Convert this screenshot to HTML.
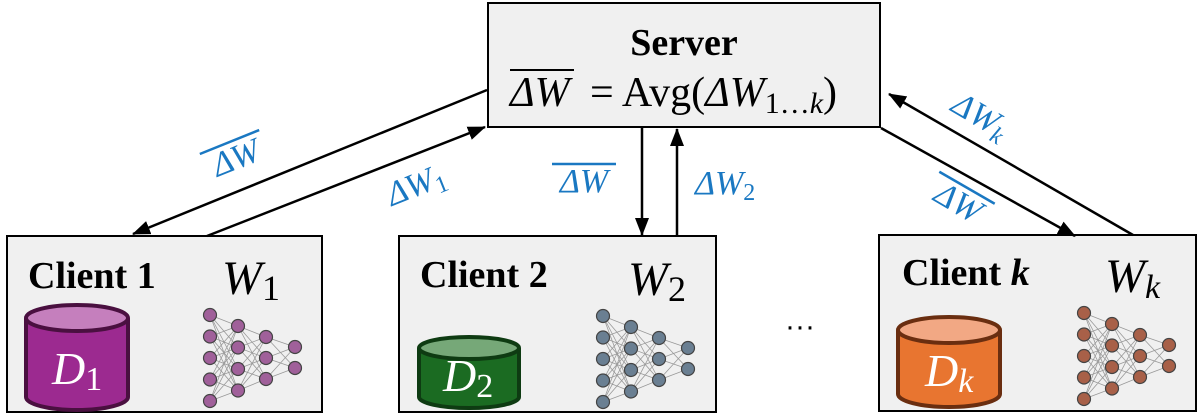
<!DOCTYPE html>
<html><head><meta charset="utf-8"><style>
html,body{margin:0;padding:0;background:#fff;}
svg{display:block;}
.b{font-family:"Liberation Serif",serif;font-weight:bold;font-size:38px;fill:#000;}
.m{font-family:"Liberation Serif",serif;font-style:italic;fill:#000;}
.bl{font-family:"Liberation Serif",serif;font-style:italic;fill:#1a78c2;font-size:34px;}
</style></head><body>
<svg width="1202" height="419" viewBox="0 0 1202 419" xmlns="http://www.w3.org/2000/svg">
<defs>
<marker id="ah" markerWidth="18" markerHeight="14" refX="17" refY="7" orient="auto" markerUnits="userSpaceOnUse" viewBox="0 0 18 14">
<path d="M0,0 L18,7 L0,14 z" fill="#000"/></marker>
<g id="net">
<path fill="none" stroke="#999" stroke-width="0.8" d="
M0,0L28,11M0,0L28,32.5M0,0L28,54M0,0L28,75.5
M0,21.5L28,11M0,21.5L28,32.5M0,21.5L28,54M0,21.5L28,75.5
M0,43L28,11M0,43L28,32.5M0,43L28,54M0,43L28,75.5
M0,64.5L28,11M0,64.5L28,32.5M0,64.5L28,54M0,64.5L28,75.5
M0,86L28,11M0,86L28,32.5M0,86L28,54M0,86L28,75.5
M28,11L56,22M28,11L56,43M28,11L56,64
M28,32.5L56,22M28,32.5L56,43M28,32.5L56,64
M28,54L56,22M28,54L56,43M28,54L56,64
M28,75.5L56,22M28,75.5L56,43M28,75.5L56,64
M56,22L85,32M56,22L85,53M56,43L85,32M56,43L85,53M56,64L85,32M56,64L85,53"/>
<g stroke="#444" stroke-width="1.2">
<circle cx="0" cy="0" r="6.5"/><circle cx="0" cy="21.5" r="6.5"/><circle cx="0" cy="43" r="6.5"/><circle cx="0" cy="64.5" r="6.5"/><circle cx="0" cy="86" r="6.5"/>
<circle cx="28" cy="11" r="6.5"/><circle cx="28" cy="32.5" r="6.5"/><circle cx="28" cy="54" r="6.5"/><circle cx="28" cy="75.5" r="6.5"/>
<circle cx="56" cy="22" r="6.5"/><circle cx="56" cy="43" r="6.5"/><circle cx="56" cy="64" r="6.5"/>
<circle cx="85" cy="32" r="6.5"/><circle cx="85" cy="53" r="6.5"/>
</g></g>
</defs>

<!-- server -->
<rect x="488" y="3" width="392" height="124" fill="#f0f0f0" stroke="#000" stroke-width="2"/>
<text x="684" y="55" text-anchor="middle" class="b">Server</text>
<text x="510" y="106" class="m" font-size="42">ΔW</text>
<line x1="510" y1="70" x2="574" y2="70" stroke="#000" stroke-width="2"/>
<text x="590" y="106" font-family="Liberation Serif,serif" font-size="42">= Avg(<tspan font-style="italic">ΔW</tspan><tspan font-size="30" dy="7">1…<tspan font-style="italic">k</tspan></tspan><tspan dy="-7">)</tspan></text>

<!-- clients -->
<rect x="7" y="236" width="315" height="176" fill="#f0f0f0" stroke="#000" stroke-width="2"/>
<rect x="399" y="236" width="317" height="176" fill="#f0f0f0" stroke="#000" stroke-width="2"/>
<rect x="879" y="235" width="317" height="176" fill="#f0f0f0" stroke="#000" stroke-width="2"/>
<text x="28" y="288" class="b">Client 1</text>
<text x="420" y="287" class="b">Client 2</text>
<text x="902" y="285" class="b">Client <tspan font-style="italic">k</tspan></text>
<text x="222" y="294" class="m" font-size="48">W<tspan font-style="normal" font-size="36" dy="6">1</tspan></text>
<text x="628" y="295" class="m" font-size="48">W<tspan font-style="normal" font-size="36" dy="6">2</tspan></text>
<text x="1105" y="292" class="m" font-size="48">W<tspan font-size="34" dy="6">k</tspan></text>

<!-- networks -->
<use href="#net" x="210" y="315" fill="#a0609a"/>
<use href="#net" x="603" y="316" fill="#6a7f92"/>
<use href="#net" x="1084" y="313" fill="#a86048"/>

<!-- cylinders -->
<g stroke-width="4">
<path d="M26,318 L26,397 A51,13 0 0 0 128,397 L128,318" fill="#9c2a90" stroke="#4a1040"/>
<ellipse cx="77" cy="318" rx="51" ry="13" fill="#c57fbd" stroke="#4a1040"/>
<path d="M419,348 L419,397 A50,11 0 0 0 519,397 L519,348" fill="#1b6b22" stroke="#0e3b12"/>
<ellipse cx="469" cy="348" rx="50" ry="11" fill="#76a878" stroke="#0e3b12"/>
<path d="M898,330 L898,394 A51,13 0 0 0 1000,394 L1000,330" fill="#e87530" stroke="#6a2e10"/>
<ellipse cx="949" cy="330" rx="51" ry="13" fill="#f2a884" stroke="#6a2e10"/>
</g>
<text x="52" y="384" class="m" font-size="46" style="fill:#fff">D<tspan font-style="normal" font-size="34" dy="6">1</tspan></text>
<text x="443" y="391" class="m" font-size="46" style="fill:#fff">D<tspan font-style="normal" font-size="34" dy="6">2</tspan></text>
<text x="925" y="386" class="m" font-size="46" style="fill:#fff">D<tspan font-size="34" dy="6">k</tspan></text>

<text x="800" y="336" font-family="Liberation Sans,sans-serif" font-size="30" text-anchor="middle">···</text>

<!-- arrows -->
<g stroke="#000" stroke-width="2.5" fill="none">
<line x1="487" y1="90" x2="133" y2="234" marker-end="url(#ah)"/>
<line x1="207" y1="236" x2="485" y2="127" marker-end="url(#ah)"/>
<line x1="642" y1="128" x2="642" y2="235" marker-end="url(#ah)"/>
<line x1="677" y1="236" x2="677" y2="129" marker-end="url(#ah)"/>
<line x1="1133" y1="235" x2="889" y2="94" marker-end="url(#ah)"/>
<line x1="881" y1="128" x2="1075" y2="236" marker-end="url(#ah)"/>
</g>

<!-- blue labels -->
<g transform="translate(240,168) rotate(-22)">
<text x="0" y="0" class="bl" text-anchor="middle">ΔW</text>
<line x1="-32" y1="-28" x2="32" y2="-28" stroke="#1a78c2" stroke-width="2.5"/></g>
<g transform="translate(420,195) rotate(-22)">
<text x="0" y="0" class="bl" text-anchor="middle">ΔW<tspan font-style="normal" font-size="24" dy="6">1</tspan></text></g>
<text x="584" y="192" class="bl" text-anchor="middle">ΔW</text>
<line x1="552" y1="164" x2="616" y2="164" stroke="#1a78c2" stroke-width="2.5"/>
<text x="695" y="194" class="bl">ΔW<tspan font-style="normal" font-size="24" dy="6">2</tspan></text>
<g transform="translate(975,125) rotate(30)">
<text x="0" y="0" class="bl" text-anchor="middle">ΔW<tspan font-size="24" dy="6">k</tspan></text></g>
<g transform="translate(953,212) rotate(30)">
<text x="0" y="0" class="bl" text-anchor="middle">ΔW</text>
<line x1="-32" y1="-28" x2="32" y2="-28" stroke="#1a78c2" stroke-width="2.5"/></g>
</svg>
</body></html>
